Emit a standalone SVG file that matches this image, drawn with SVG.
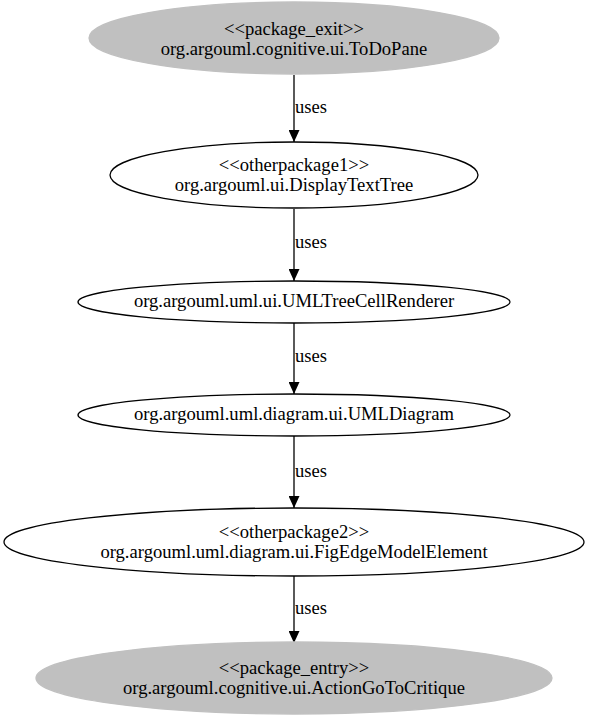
<svg xmlns="http://www.w3.org/2000/svg" width="589" height="717" viewBox="0 0 589 717">
<style>
text{font-family:"Liberation Serif","Times New Roman",serif;font-size:18.6px;fill:#000;text-anchor:middle}
.lbl{text-anchor:start}
.n{fill:#fff;stroke:#000;stroke-width:1.3}
.g{fill:#c0c0c0;stroke:#c0c0c0;stroke-width:1.3}
.e{stroke:#000;stroke-width:1.3;fill:none}
</style>
<defs>
<marker id="ah" markerWidth="12" markerHeight="11" refX="12" refY="5.5" orient="auto" markerUnits="userSpaceOnUse">
<path d="M0,0 L12,5.5 L0,11 Z" fill="#000"/>
</marker>
</defs>
<rect width="589" height="717" fill="#fff"/>
<g id="edges">
<line class="e" x1="294" y1="75" x2="294" y2="142" marker-end="url(#ah)"/>
<text class="lbl" x="295" y="113">uses</text>
<line class="e" x1="294" y1="209" x2="294" y2="281" marker-end="url(#ah)"/>
<text class="lbl" x="295" y="248">uses</text>
<line class="e" x1="294" y1="323" x2="294" y2="394" marker-end="url(#ah)"/>
<text class="lbl" x="295" y="362">uses</text>
<line class="e" x1="294" y1="436" x2="294" y2="508" marker-end="url(#ah)"/>
<text class="lbl" x="295" y="477">uses</text>
<line class="e" x1="294" y1="576" x2="294" y2="643" marker-end="url(#ah)"/>
<text class="lbl" x="295" y="614">uses</text>
</g>
<g id="node1">
<ellipse class="g" cx="294" cy="38" rx="205" ry="36"/>
<text x="294" y="35">&lt;&lt;package_exit&gt;&gt;</text>
<text x="294" y="55">org.argouml.cognitive.ui.ToDoPane</text>
</g>
<g id="node2">
<ellipse class="n" cx="294" cy="175" rx="184" ry="33"/>
<text x="294" y="171">&lt;&lt;otherpackage1&gt;&gt;</text>
<text x="294" y="191">org.argouml.ui.DisplayTextTree</text>
</g>
<g id="node3">
<ellipse class="n" cx="294" cy="302" rx="216" ry="21"/>
<text x="294" y="307">org.argouml.uml.ui.UMLTreeCellRenderer</text>
</g>
<g id="node4">
<ellipse class="n" cx="294" cy="415" rx="216" ry="21"/>
<text x="294" y="420">org.argouml.uml.diagram.ui.UMLDiagram</text>
</g>
<g id="node5">
<ellipse class="n" cx="294" cy="542" rx="290" ry="34"/>
<text x="294" y="538">&lt;&lt;otherpackage2&gt;&gt;</text>
<text x="294" y="558">org.argouml.uml.diagram.ui.FigEdgeModelElement</text>
</g>
<g id="node6">
<ellipse class="g" cx="294" cy="678" rx="258" ry="36"/>
<text x="294" y="674">&lt;&lt;package_entry&gt;&gt;</text>
<text x="294" y="694">org.argouml.cognitive.ui.ActionGoToCritique</text>
</g>
</svg>
